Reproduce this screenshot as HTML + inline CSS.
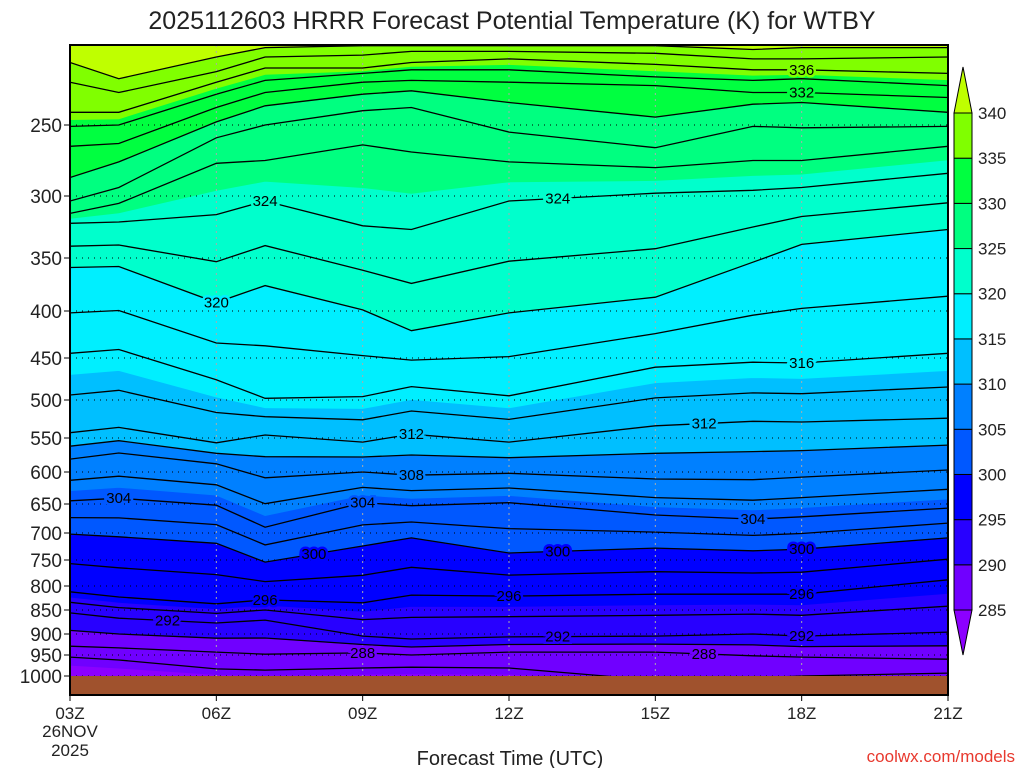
<!DOCTYPE html>
<html><head><meta charset="utf-8"><title>HRRR Potential Temperature WTBY</title>
<style>
html,body{margin:0;padding:0;background:#fff;}
svg{display:block;font-family:"Liberation Sans",sans-serif;}
</style></head>
<body>
<svg id="chart" width="1024" height="768" viewBox="0 0 1024 768" xmlns="http://www.w3.org/2000/svg">
<defs><clipPath id="plotclip"><rect x="70" y="45" width="878" height="650"/></clipPath></defs>
<rect x="0" y="0" width="1024" height="768" fill="#fff"/>
<text x="512" y="29" text-anchor="middle" font-size="25" fill="#222">2025112603 HRRR Forecast Potential Temperature (K) for WTBY</text>
<g id="fills" clip-path="url(#plotclip)"></g>
<g id="grid"></g>
<g id="lines" clip-path="url(#plotclip)"></g>
<rect x="70" y="676" width="878" height="19" fill="#a0522d"/>
<g id="clabels"></g>
<rect x="70" y="45" width="878" height="650" fill="none" stroke="#000" stroke-width="2"/>
<g id="yaxis"></g>
<g id="xaxis"></g>
<g id="cbar"></g>
<text x="510" y="765" text-anchor="middle" font-size="20" fill="#222">Forecast Time (UTC)</text>
<text x="1015" y="762" text-anchor="end" font-size="17" fill="#e8392e">coolwx.com/models</text>
</svg>
<script>
const hours = [3,4,6,7,9,10,12,15,17,18,21];
const levels = [284,286,288,292,296,300,304,308,312,316,320,324,326,328,330,332,334,336,338,340];
const p284 = [993,1000,1010,1010,1010,1010,1010,1010,1010,1010,1010];
const p286 = [955,962,983,986,981,979,981,1010,1005,1000,993];
const p288 = [929,933,943,948,945,950,943,943,952,955,960];
const p292 = [856,867,877,871,905,912,907,905,900,905,896];
const p296 = [812,823,837,829,835,819,821,817,817,817,788];
const p300 = [702,707,719,754,724,709,737,728,733,730,709];
const p304 = [645,641,652,690,648,653,648,669,676,672,657];
const p308 = [581,572,588,609,600,605,602,611,612,608,597];
const p312 = [543,536,557,546,556,545,556,534,528,529,524];
const p316 = [445,441,476,498,496,484,495,461,455,456,445];
const p320 = [359,358,392,376,399,421,402,387,354,339,327];
const p324 = [322,321,315,304,324,327,304,298,296,294,284];
const p326 = [314,306,277,275,264,269,276,280,275,275,265];
const p328 = [304,294,259,250,241,239,255,266,251,252,251];
const p330 = [287,276,248,238,231,229,236,245,237,236,242];
const p332 = [265,263,239,230,224,223,224,226,230,230,233];
const p334 = [251,250,231,223,219,217,217,221,223,222,226];
const p336 = [242,242,224,216,216,213,211,214,217,217,219];
const p338 = [224,230,218,210,209,207,207,208,211,211,210];
const p340 = [213,222,210,205,204,204,204,204,206,205,205];
const levelPressures = [p284,p286,p288,p292,p296,p300,p304,p308,p312,p316,p320,p324,p326,p328,p330,p332,p334,p336,p338,p340];
const yTicks = [250,300,350,400,450,500,550,600,650,700,750,800,850,900,950,1000];
const xTickHours = [3,6,9,12,15,18,21];
const xTickLabels = ["03Z","06Z","09Z","12Z","15Z","18Z","21Z"];
const bandBounds = [285,290,295,300,305,310,315,320,325,330,335,340];
const bandColors = ["#8c00ff","#7000ff","#2800ff","#0000ff","#0058ff","#0080ff","#00bfff","#00efff","#00ffcc","#00ff80","#00ff40","#80ff00","#bfff00"];
const labelTheta = [336,332,324,324,320,316,312,312,308,304,304,304,300,300,300,296,296,296,292,292,292,288,288];
const labelHour = [18,18,7,13,6,18,10,16,10,4,9,17,8,13,18,7,12,18,5,13,18,9,16];

const NS = "http://www.w3.org/2000/svg";
const tickY = [125,196,258,311,358,400,438,472,504,533,560,586,610,634,655,676];
function yOf(p){
  if(p<=250) return 125 - 390*Math.log(250/p);
  if(p>=1000) return 676 + (p-1000)*0.42;
  for(let i=0;i<yTicks.length-1;i++){
    if(p>=yTicks[i] && p<=yTicks[i+1]){
      return tickY[i] + (p-yTicks[i])/(yTicks[i+1]-yTicks[i])*(tickY[i+1]-tickY[i]);
    }
  }
  return 676;
}
function xOf(h){ return 70 + (h-3)*878/18; }
function pAt(theta, i){
  let k = 0;
  if(theta<=levels[0]) k=0;
  else if(theta>=levels[levels.length-1]) k=levels.length-2;
  else { while(!(theta>=levels[k] && theta<=levels[k+1])) k++; }
  const t=(theta-levels[k])/(levels[k+1]-levels[k]);
  return levelPressures[k][i] + t*(levelPressures[k+1][i]-levelPressures[k][i]);
}
function mk(tag, attrs, parent){
  const e=document.createElementNS(NS,tag);
  for(const k in attrs) e.setAttribute(k,attrs[k]);
  parent.appendChild(e); return e;
}
function bandColorFor(theta){
  let b=0; while(b<bandBounds.length && theta>=bandBounds[b]) b++;
  return bandColors[b];
}
const gF=document.getElementById('fills');
for(let b=0;b<bandColors.length;b++){
  const top=[],bot=[];
  for(let i=0;i<hours.length;i++){
    const x=xOf(hours[i]);
    const yt = b===bandColors.length-1 ? 30 : yOf(pAt(bandBounds[b],i));
    const yb = b===0 ? 720 : yOf(pAt(bandBounds[b-1],i));
    top.push(x.toFixed(1)+","+yt.toFixed(1));
    bot.unshift(x.toFixed(1)+","+yb.toFixed(1));
  }
  const pg=mk('polygon',{points:top.concat(bot).join(" "),fill:bandColors[b],stroke:bandColors[b],'stroke-width':1},gF);
  
  
}
const gG=document.getElementById('grid');
yTicks.forEach(p=>{
  const y=yOf(p);
  const l=mk('line',{x1:70,x2:948,y1:y,y2:y,stroke:'#000','stroke-width':1,'stroke-dasharray':'1,5'},gG);
  
  
});
xTickHours.slice(1,-1).forEach(h=>{
  const x=xOf(h);
  const l=mk('line',{x1:x,x2:x,y1:45,y2:695,stroke:'#aaa','stroke-width':1,'stroke-dasharray':'2,4'},gG);
  
  
});
const gL=document.getElementById('lines');
for(let th=286;th<=340;th+=2){
  const pts=hours.map((h,i)=>xOf(h).toFixed(1)+","+yOf(pAt(th,i)).toFixed(1)).join(" ");
  const pl=mk('polyline',{points:pts,fill:'none',stroke:'#000','stroke-width':1.3},gL);
  
  
}
const gC=document.getElementById('clabels');
function yAtHour(theta,h){
  let i=0; while(i<hours.length-2 && h>hours[i+1]) i++;
  const t=(h-hours[i])/(hours[i+1]-hours[i]);
  return yOf(pAt(theta,i)+t*(pAt(theta,i+1)-pAt(theta,i)));
}
for(let k=0;k<labelTheta.length;k++){
  const x=xOf(labelHour[k]), y=yAtHour(labelTheta[k],labelHour[k]);
  const t=mk('text',{x:x,y:y+5,'text-anchor':'middle','font-size':15,fill:'#000',stroke:bandColorFor(labelTheta[k]-1),'stroke-width':5,'paint-order':'stroke'},gC);
  t.textContent=labelTheta[k];
  
  
}
const gY=document.getElementById('yaxis');
yTicks.forEach(p=>{
  const y=yOf(p);
  const tk=mk('line',{x1:64,x2:70,y1:y,y2:y,stroke:'#000','stroke-width':1},gY);
  
  
  const t=mk('text',{x:62,y:y+7,'text-anchor':'end','font-size':19,fill:'#222'},gY);
  t.textContent=p;
  
  
});
const gX=document.getElementById('xaxis');
xTickHours.forEach((h,i)=>{
  const x=xOf(h);
  const tk=mk('line',{x1:x,x2:x,y1:695,y2:701,stroke:'#000','stroke-width':1},gX);
  
  
  const t=mk('text',{x:x,y:719,'text-anchor':'middle','font-size':17,fill:'#222'},gX);
  t.textContent=xTickLabels[i];
  
  
});
const d1=mk('text',{x:70,y:737,'text-anchor':'middle','font-size':17,fill:'#222'},gX);
d1.textContent='26NOV';


const d2=mk('text',{x:70,y:756,'text-anchor':'middle','font-size':17,fill:'#222'},gX);
d2.textContent='2025';


const gB=document.getElementById('cbar');
const cbStep=(610-113)/11;
for(let b=1;b<bandColors.length-1;b++){
  const y0=610-b*cbStep;
  const r=mk('rect',{x:954,y:y0,width:18,height:cbStep,fill:bandColors[b],stroke:'#000','stroke-width':1},gB);
  
  
}
const tt=mk('polygon',{points:"954,113 972,113 963,67",fill:bandColors[bandColors.length-1],stroke:'#000','stroke-width':1},gB);


const tb=mk('polygon',{points:"954,610 972,610 963,655",fill:bandColors[0],stroke:'#000','stroke-width':1},gB);


bandBounds.forEach((v,i)=>{
  const t=mk('text',{x:978,y:610-i*cbStep+6,'font-size':17,fill:'#222'},gB);
  t.textContent=v;
  
  
});
</script>
</body></html>
